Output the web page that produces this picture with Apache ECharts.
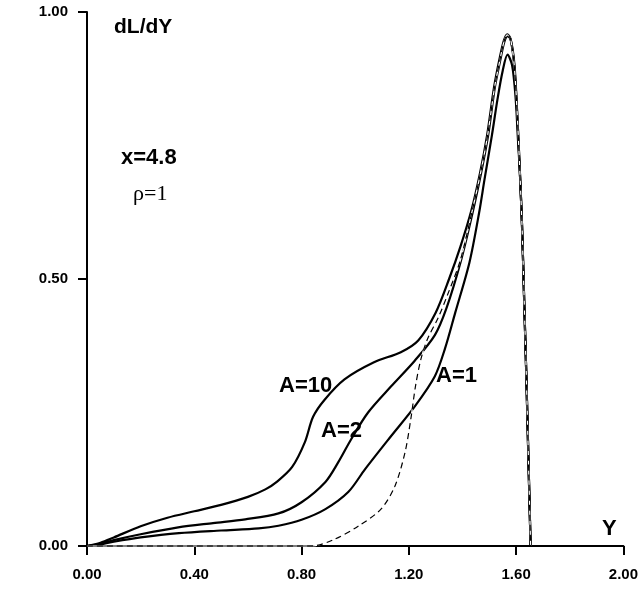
<!DOCTYPE html>
<html>
<head>
<meta charset="utf-8">
<script src="https://cdn.jsdelivr.net/npm/echarts@6/dist/echarts.min.js"></script>
<style>
  html, body { margin: 0; padding: 0; background: #fff; }
  #chart { width: 641px; height: 591px; }
</style>
</head>
<body>
<div id="chart"></div>
<script>
// Axis ticks
const xTicks = [0, 0.4, 0.8, 1.2, 1.6, 2.0];
const yTicks = [0, 0.5, 1.0];

// dL/dY profiles, [Y, dL/dY]
const curveA10 = [
  [0, 0], [0.05, 0.006], [0.1, 0.016], [0.2, 0.037], [0.3, 0.053], [0.4, 0.065],
  [0.5, 0.077], [0.6, 0.092], [0.665, 0.106], [0.71, 0.121], [0.765, 0.148], [0.812, 0.194],
  [0.843, 0.242], [0.886, 0.274], [0.96, 0.312], [1.07, 0.344], [1.17, 0.363],
  [1.235, 0.385], [1.30, 0.437], [1.35, 0.50], [1.392, 0.56], [1.434, 0.63],
  [1.466, 0.70], [1.492, 0.77], [1.518, 0.86], [1.538, 0.912], [1.554, 0.946],
  [1.567, 0.958], [1.579, 0.95], [1.593, 0.9], [1.605, 0.80], [1.614, 0.70],
  [1.622, 0.6], [1.630, 0.46], [1.638, 0.32], [1.646, 0.16], [1.654, 0]
];
const curveA2 = [
  [0, 0], [0.05, 0.004], [0.1, 0.011], [0.2, 0.022], [0.34, 0.035], [0.47, 0.043], [0.59, 0.050], [0.714, 0.061],
  [0.80, 0.082], [0.889, 0.120], [0.937, 0.157], [0.985, 0.200], [1.048, 0.250],
  [1.134, 0.299], [1.222, 0.347], [1.297, 0.395], [1.340, 0.445], [1.392, 0.53],
  [1.438, 0.625], [1.470, 0.70], [1.496, 0.77], [1.521, 0.86], [1.541, 0.91],
  [1.556, 0.944], [1.568, 0.955], [1.580, 0.948], [1.594, 0.9], [1.605, 0.80],
  [1.614, 0.70], [1.622, 0.6], [1.630, 0.46], [1.638, 0.32], [1.646, 0.16], [1.654, 0]
];
const curveA1 = [
  [0, 0], [0.05, 0.003], [0.1, 0.008], [0.2, 0.016], [0.343, 0.024], [0.5, 0.029], [0.64, 0.033], [0.714, 0.038],
  [0.80, 0.049], [0.889, 0.069], [0.974, 0.101], [1.037, 0.144], [1.134, 0.206],
  [1.223, 0.262], [1.297, 0.318], [1.335, 0.37], [1.373, 0.437], [1.426, 0.531],
  [1.462, 0.624], [1.482, 0.686], [1.510, 0.770], [1.530, 0.835], [1.550, 0.890],
  [1.568, 0.920], [1.585, 0.900], [1.598, 0.84], [1.607, 0.76], [1.614, 0.70],
  [1.622, 0.6], [1.630, 0.46], [1.638, 0.32], [1.646, 0.16], [1.654, 0]
];
const curveLimit = [
  [0, 0], [0.40, 0], [0.837, 0], [0.92, 0.012], [1.011, 0.037],
  [1.096, 0.069], [1.148, 0.112], [1.186, 0.176], [1.208, 0.24], [1.225, 0.30],
  [1.245, 0.35], [1.27, 0.388], [1.31, 0.428], [1.344, 0.47], [1.392, 0.535],
  [1.436, 0.627], [1.468, 0.70], [1.494, 0.77], [1.520, 0.86], [1.540, 0.911],
  [1.555, 0.945], [1.567, 0.957], [1.579, 0.95], [1.593, 0.9], [1.605, 0.80],
  [1.614, 0.70], [1.622, 0.6], [1.630, 0.46], [1.638, 0.32], [1.646, 0.16], [1.654, 0]
];

// Annotations
const yAxisTitle = 'dL/dY';
const xAxisTitle = 'Y';
const paramX = 'x=4.8';
const paramRho = 'ρ=1';
const curveNames = ['A=10', 'A=2', 'A=1'];

const sans = 'Liberation Sans, Arial, sans-serif';
const serif = 'Liberation Serif, Times New Roman, serif';

const chart = echarts.init(document.getElementById('chart'), null, { renderer: 'canvas' });

const solid = (name, data) => ({
  name: name,
  type: 'line',
  data: data,
  smooth: 0.3,
  showSymbol: false,
  clip: false,
  lineStyle: { color: '#000', width: 2.2 },
  z: 3
});

function bigText(text, x, y, size, family, weight) {
  return {
    type: 'text',
    x: x, y: y,
    style: {
      text: text,
      fill: '#000',
      font: (weight || 'bold') + ' ' + size + 'px ' + family,
      align: 'left',
      verticalAlign: 'middle'
    },
    z: 10
  };
}

chart.setOption({
  animation: false,
  backgroundColor: '#fff',
  grid: { left: 87, right: 13, top: 12, bottom: 45, containLabel: false },
  xAxis: {
    type: 'value',
    min: xTicks[0],
    max: xTicks[xTicks.length - 1],
    interval: 0.4,
    axisLine: { show: true, onZero: false, lineStyle: { color: '#000', width: 2 } },
    axisTick: { show: true, length: 9, lineStyle: { color: '#000', width: 2 } },
    axisLabel: {
      margin: 21,
      color: '#000',
      fontFamily: sans,
      fontWeight: 'bold',
      fontSize: 15,
      formatter: v => v.toFixed(2)
    },
    splitLine: { show: false }
  },
  yAxis: {
    type: 'value',
    min: yTicks[0],
    max: yTicks[yTicks.length - 1],
    interval: 0.5,
    axisLine: { show: true, onZero: false, lineStyle: { color: '#000', width: 2 } },
    axisTick: { show: true, length: 9, lineStyle: { color: '#000', width: 2 } },
    axisLabel: {
      margin: 19,
      color: '#000',
      fontFamily: sans,
      fontWeight: 'bold',
      fontSize: 15,
      formatter: v => v.toFixed(2)
    },
    splitLine: { show: false }
  },
  series: [
    solid(curveNames[0], curveA10),
    solid(curveNames[1], curveA2),
    solid(curveNames[2], curveA1),
    {
      // white underlay so the dash gaps show through where curves overlap
      name: 'limit-under',
      type: 'line',
      data: curveLimit,
      smooth: 0.3,
      showSymbol: false,
      clip: false,
      lineStyle: { color: '#fff', width: 1.2 },
      z: 4
    },
    {
      name: 'limit',
      type: 'line',
      data: curveLimit,
      smooth: 0.3,
      showSymbol: false,
      clip: false,
      lineStyle: { color: '#000', width: 1.2, type: [6, 4] },
      z: 5
    }
  ],
  graphic: [
    bigText(yAxisTitle, 114, 27.5, 21, sans),
    bigText(paramX, 121, 158, 22, sans),
    bigText(paramRho, 133, 194, 22, serif, 'normal'),
    bigText(curveNames[0], 279, 385.5, 22, sans),
    bigText(curveNames[1], 321, 430.5, 22, sans),
    bigText(curveNames[2], 436, 376, 22, sans),
    bigText(xAxisTitle, 602, 529, 22, sans)
  ]
});
</script>
</body>
</html>
